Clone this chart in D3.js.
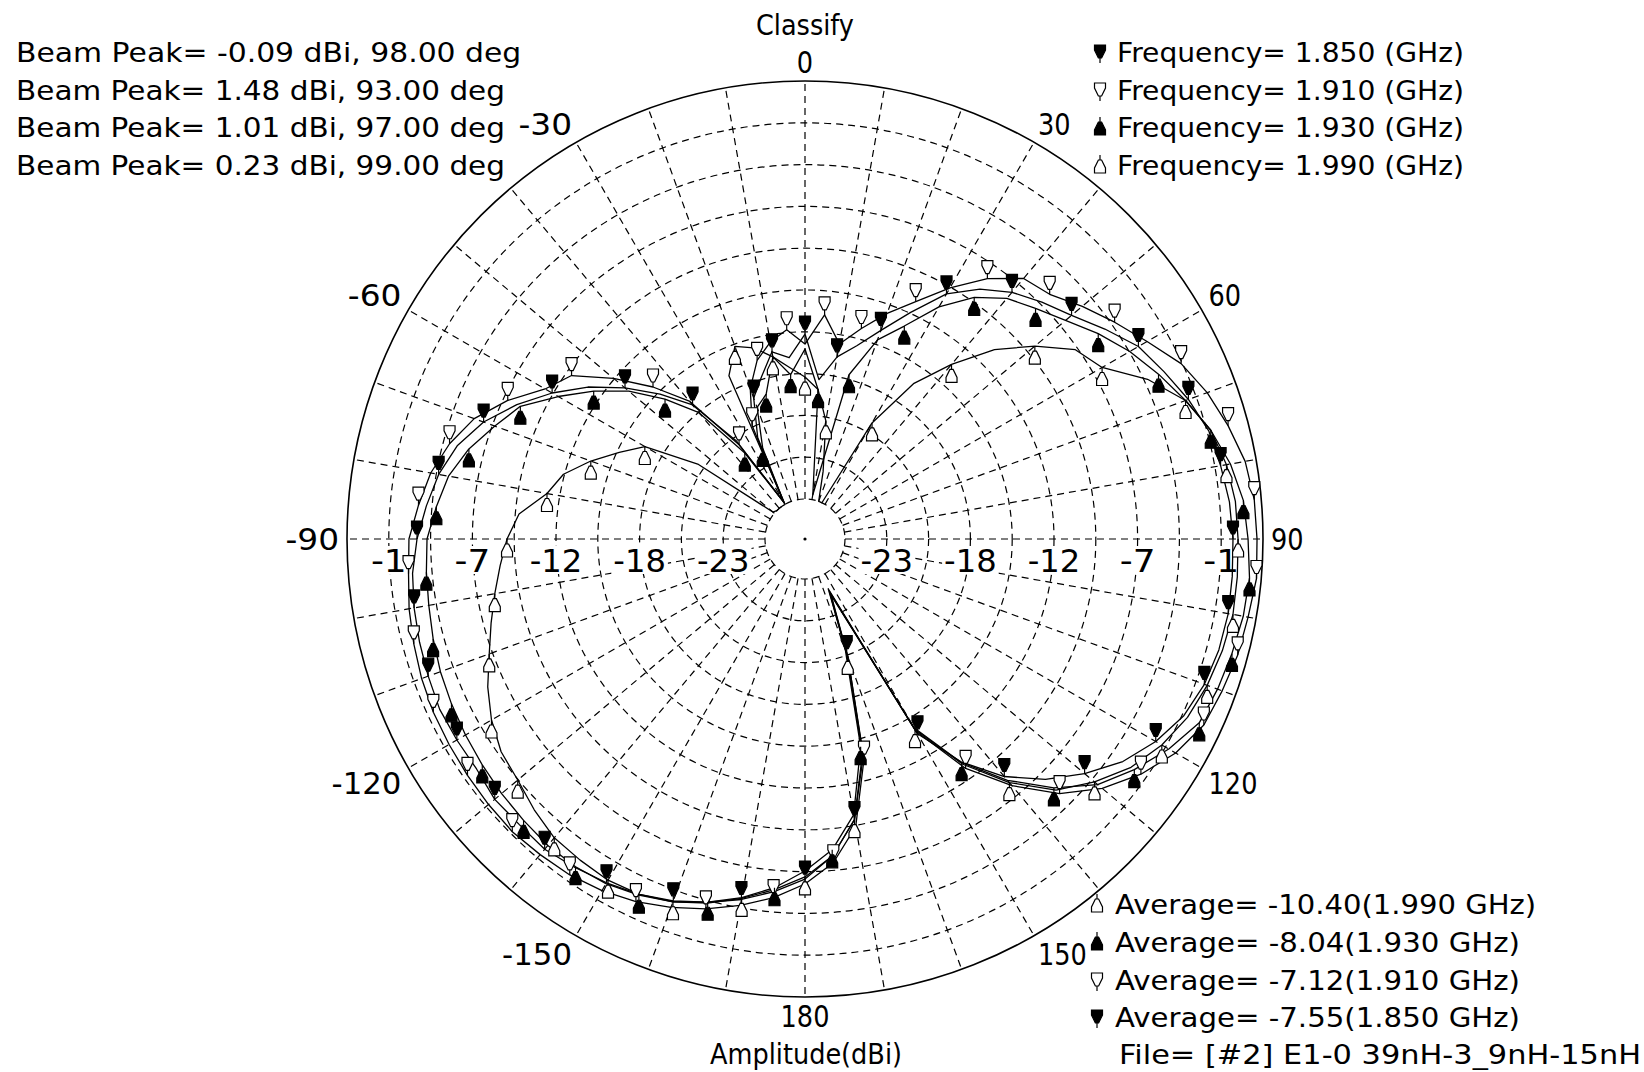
<!DOCTYPE html>
<html><head><meta charset="utf-8">
<script src="https://cdn.jsdelivr.net/npm/d3@7"></script>
<style>
html,body{margin:0;padding:0;background:#fff;}
svg{display:block;}
text{font-family:"DejaVu Sans",sans-serif;fill:#000;}
</style></head><body>
<svg id="chart" width="1644" height="1072"></svg>
<script>
// ---------- DATA ----------
const angles = [-180,-175,-170,-165,-160,-155,-150,-145,-140,-135,-130,-125,-120,-115,-110,-105,-100,-95,-90,-85,-80,-75,-70,-65,-60,-55,-50,-45,-40,-35,-30,-25,-20,-15,-10,-5,0,5,10,15,20,25,30,35,40,45,50,55,60,65,70,75,80,85,90,95,100,105,110,115,120,125,130,135,140,145,150,155,160,165,170,175];

const freq1850 = [-6.10,-5.17,-4.36,-3.69,-3.09,-2.62,-2.29,-2.02,-1.75,-1.82,
  -1.75,-2.02,-1.95,-1.88,-2.02,-2.15,-2.29,-2.49,-2.89,-3.42,
  -3.96,-4.76,-5.97,-7.58,-9.32,-11.13,-13.14,-15.15,-17.16,-20.84,
  -26.07,-21.38,-18.83,-17.63,-16.15,-16.69,-15.15,-18.16,-16.49,-15.48,
  -14.01,-12.13,-9.92,-8.45,-7.31,-6.44,-5.57,-4.36,-3.09,-2.35,
  -1.55,-0.88,-0.61,-0.34,-0.21,-0.15,-0.09,-0.18,-0.41,-0.88,
  -1.75,-2.89,-4.43,-6.10,-8.11,-10.66,-13.81,-24.86,-20.71,-14.01,-9.79,-7.58];

const freq1910 = [-5.77,-4.76,-3.96,-3.23,-2.62,-2.08,-1.68,-1.41,-1.28,-1.15,
  -1.21,-1.28,-1.35,-1.41,-1.55,-1.75,-1.95,-2.22,-2.35,-2.89,
  -3.42,-4.23,-5.30,-6.91,-8.78,-9.79,-12.13,-14.48,-16.82,-21.18,
  -25.87,-20.51,-18.16,-16.49,-15.48,-14.81,-15.82,-13.81,-15.62,-14.28,
  -12.80,-11.33,-9.45,-7.58,-6.10,-5.70,-4.63,-3.56,-2.42,-1.08,
  -0.21,0.46,1.06,1.33,1.40,1.48,1.26,1.13,0.86,0.60,
  -0.21,-1.41,-2.89,-4.76,-7.31,-10.12,-14.01,-25.20,-20.51,-13.61,-9.32,-7.11];

const freq1930 = [-6.64,-5.43,-4.49,-3.69,-3.02,-2.55,-2.22,-2.08,-2.08,-2.22,
  -2.35,-2.49,-2.62,-2.75,-2.89,-3.09,-3.29,-3.42,-3.56,-4.09,
  -4.63,-5.57,-6.77,-7.84,-9.79,-11.60,-13.47,-15.62,-17.83,-21.85,
  -26.07,-22.18,-19.50,-18.83,-16.49,-17.83,-16.15,-18.83,-25.87,-17.49,
  -14.68,-13.14,-10.93,-9.12,-7.84,-7.04,-6.10,-4.90,-3.76,-2.75,
  -1.75,-0.74,0.06,0.60,0.80,1.01,0.93,0.73,0.53,0.26,
  -0.74,-1.95,-3.29,-5.30,-7.78,-10.59,-14.28,-25.00,-20.98,-14.48,-10.12,-7.98];

const freq1990 = [-6.24,-5.30,-4.43,-3.63,-3.02,-2.62,-2.49,-2.62,-2.75,-3.23,
  -3.76,-4.03,-4.63,-5.43,-6.37,-7.11,-7.78,-8.38,-8.92,-9.65,
  -11.33,-12.13,-13.61,-15.15,-16.49,-20.17,-26.07,-26.20,-26.20,-26.20,
  -26.20,-16.82,-15.15,-15.62,-16.49,-17.36,-18.03,-18.83,-20.84,-24.19,
  -26.20,-26.20,-19.90,-16.15,-13.61,-10.93,-8.78,-6.77,-5.90,-3.56,
  -1.75,-0.74,-0.21,0.06,0.13,0.19,0.23,0.06,-0.21,-0.61,
  -1.28,-2.22,-3.56,-5.10,-7.58,-10.46,-14.14,-24.73,-20.51,-13.81,-9.79,-7.58];

const frequencies = ["1.850","1.910","1.930","1.990"];
const beamPeakDb = ["-0.09","1.48","1.01","0.23"];
const beamPeakDeg = ["98.00","93.00","97.00","99.00"];
const averageDb = ["-7.55","-7.12","-8.04","-10.40"];
const fileLabel = "File= [#2] E1-0 39nH-3_9nH-15nH";
const titleText = "Classify";
const axisTitle = "Amplitude(dBi)";

const angleTicks = [0,30,60,90,120,150,180,-150,-120,-90,-60,-30];
const ringValues = [-26.2,-23.4,-20.6,-17.8,-15.0,-12.2,-9.4,-6.6,-3.8,-1.0];
const outerValue = 1.8;
const ringTickValues = [-23.4,-17.8,-12.2,-6.6,-1.0];
const ringTickLabels = ["-23","-18","-12","-7","-1"];
const spokeAngles = [0,10,20,30,40,50,60,70,80,90,100,110,120,130,140,150,160,170,180,190,200,210,220,230,240,250,260,270,280,290,300,310,320,330,340,350];

// ---------- LAYOUT ----------
const W = 1644, H = 1072, cx = 805, cy = 539;
const svg = d3.select("#chart");
svg.append("rect").attr("width", W).attr("height", H).attr("fill", "#fff");

const r = d3.scaleLinear().domain([ringValues[0], outerValue]).range([40, 458]).clamp(true);
const rad = a => a * Math.PI / 180;
const g = svg.append("g").attr("transform", `translate(${cx},${cy})`);
const dash = "7,5";

// rings
g.selectAll("circle.ring").data(ringValues).join("circle")
  .attr("class", "ring").attr("r", d => r(d))
  .attr("fill", "none").attr("stroke", "#000").attr("stroke-width", 1.2).attr("stroke-dasharray", dash);

// spokes
g.selectAll("line.spoke").data(spokeAngles).join("line")
  .attr("class", "spoke")
  .attr("x1", a => r(ringValues[0]) * Math.sin(rad(a)))
  .attr("y1", a => -r(ringValues[0]) * Math.cos(rad(a)))
  .attr("x2", a => r(outerValue) * Math.sin(rad(a)))
  .attr("y2", a => -r(outerValue) * Math.cos(rad(a)))
  .attr("stroke", "#000").attr("stroke-width", 1.2).attr("stroke-dasharray", dash);

// outer circle
g.append("circle").attr("r", r(outerValue)).attr("fill", "none").attr("stroke", "#000").attr("stroke-width", 1.6);
g.append("circle").attr("r", 1.6).attr("fill", "#000");

// radial tick labels (both sides)
const ringLab = [];
ringTickValues.forEach((v, i) => { ringLab.push({v, s: -1, t: ringTickLabels[i]}); ringLab.push({v, s: 1, t: ringTickLabels[i]}); });
const labW = t => (t.length - 1) * 16.8 + 19;
const rl = g.selectAll("g.rl").data(ringLab).join("g").attr("class", "rl")
  .attr("transform", d => `translate(${d.s * r(d.v)},0)`);
rl.append("rect").attr("x", d => -labW(d.t) / 2 - 2).attr("y", 7).attr("width", d => labW(d.t) + 4).attr("height", 28).attr("fill", "#fff");
rl.append("text").attr("x", 0).attr("y", 33).attr("text-anchor", "middle")
  .attr("font-size", 32).attr("textLength", d => labW(d.t)).attr("lengthAdjust", "spacingAndGlyphs")
  .text(d => d.t);

// angular labels
const aR = 466;
const angW = t => { const s = String(t); return s.replace("-", "").length * 16.3 + (s[0] === "-" ? 21 : 0); };
g.selectAll("text.ang").data(angleTicks).join("text")
  .attr("class", "ang")
  .attr("font-size", 30)
  .attr("x", a => aR * Math.sin(rad(a)))
  .attr("y", a => { const c = Math.cos(rad(a)); const y = -aR * c; return c > 0.01 ? y : (c < -0.01 ? y + 22 : y + 11); })
  .attr("text-anchor", a => { const s = Math.sin(rad(a)); return s > 0.01 ? "start" : (s < -0.01 ? "end" : "middle"); })
  .attr("textLength", a => angW(a)).attr("lengthAdjust", "spacingAndGlyphs")
  .text(a => String(a));

// ---------- SERIES ----------
const downPath = "M0,0V-5M-1.6,-5L-5.5,-13V-18H5.5V-13L1.6,-5Z";
const upPath = "M0,0V5M-1.6,5L-5.5,13V18H5.5V13L1.6,5Z";
const series = [
  {name: frequencies[0], values: freq1850, fill: "#000", path: downPath, off: 0},
  {name: frequencies[1], values: freq1910, fill: "#fff", path: downPath, off: 1},
  {name: frequencies[2], values: freq1930, fill: "#000", path: upPath, off: 1},
  {name: frequencies[3], values: freq1990, fill: "#fff", path: upPath, off: 0}
];
const line = d3.lineRadial().angle(d => rad(d.a)).radius(d => r(d.v)).curve(d3.curveLinearClosed);
series.forEach(s => {
  const pts = angles.map((a, i) => ({a, v: s.values[i], i}));
  g.append("path").datum(pts).attr("d", line).attr("fill", "none").attr("stroke", "#000").attr("stroke-width", 1.3).attr("stroke-linejoin", "round");
  s.pts = pts;
});
series.forEach(s => {
  const mk = s.pts.filter(p => (p.i + s.off) % 2 === 0 && p.v > -24);
  g.selectAll(null).data(mk).join("path")
    .attr("transform", p => `translate(${r(p.v) * Math.sin(rad(p.a))},${-r(p.v) * Math.cos(rad(p.a))})`)
    .attr("d", s.path).attr("fill", s.fill).attr("stroke", "#000").attr("stroke-width", 1.2);
});

// ---------- TEXT ----------
const fs = 27;
svg.append("text").attr("x", cx).attr("y", 35).attr("text-anchor", "middle").attr("font-size", 28)
  .attr("textLength", 98).attr("lengthAdjust", "spacingAndGlyphs").text(titleText);
svg.append("text").attr("x", 806).attr("y", 1064).attr("text-anchor", "middle").attr("font-size", 28)
  .attr("textLength", 192).attr("lengthAdjust", "spacingAndGlyphs").text(axisTitle);

const baseTop = [62, 100, 137, 175];
// Beam peak lines
frequencies.forEach((f, i) => {
  const t = `Beam Peak= ${beamPeakDb[i]} dBi, ${beamPeakDeg[i]} deg`;
  svg.append("text").attr("x", 16).attr("y", baseTop[i]).attr("font-size", fs)
    .attr("textLength", t.length * 16.3 - (beamPeakDb[i][0] === "-" ? 0 : 0)).attr("lengthAdjust", "spacingAndGlyphs").text(t);
});
// Frequency legend
series.forEach((s, i) => {
  const b = baseTop[i];
  svg.append("path").attr("transform", s.path === downPath ? `translate(1100,${b + 1})` : `translate(1100,${b - 20})`)
    .attr("d", s.path).attr("fill", s.fill).attr("stroke", "#000").attr("stroke-width", 1.2);
  svg.append("text").attr("x", 1117).attr("y", b).attr("font-size", fs)
    .attr("textLength", 347).attr("lengthAdjust", "spacingAndGlyphs")
    .text(`Frequency= ${s.name} (GHz)`);
});
// Average legend (reverse order)
const baseBot = [914, 952, 990, 1027];
[3, 2, 1, 0].forEach((k, j) => {
  const s = series[k], b = baseBot[j];
  const t = `Average= ${averageDb[k]}(${s.name} GHz)`;
  svg.append("path").attr("transform", s.path === downPath ? `translate(1097,${b + 1})` : `translate(1097,${b - 20})`)
    .attr("d", s.path).attr("fill", s.fill).attr("stroke", "#000").attr("stroke-width", 1.2);
  svg.append("text").attr("x", 1115).attr("y", b).attr("font-size", fs)
    .attr("textLength", t.length * 16.2).attr("lengthAdjust", "spacingAndGlyphs").text(t);
});
svg.append("text").attr("x", 1119).attr("y", 1064).attr("font-size", fs)
  .attr("textLength", 522).attr("lengthAdjust", "spacingAndGlyphs").text(fileLabel);
</script>
</body></html>
